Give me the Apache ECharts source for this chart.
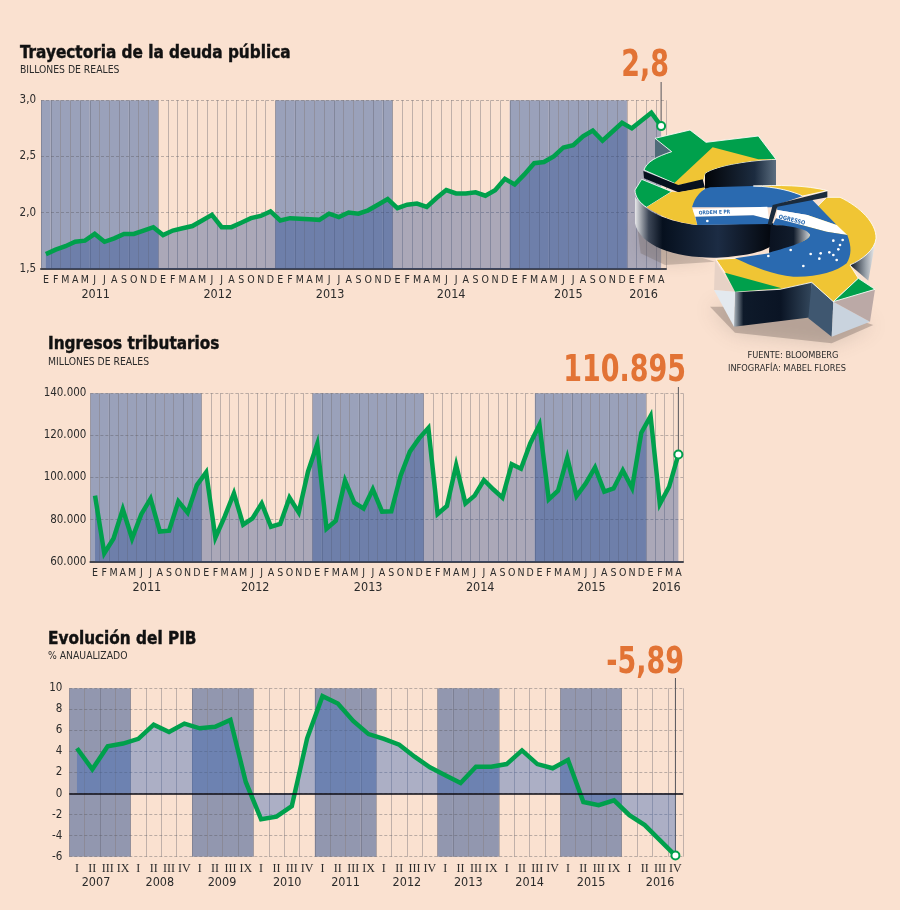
<!DOCTYPE html>
<html>

	<head>
		<meta charset="UTF-8">
		<title>Brasil</title>
		<style>
			html, body { margin: 0; padding: 0; background: #FAE1D0; }
			#myChart { width: 900px; height: 910px; }
		</style>
	</head>

	<body>
		<div id="myChart"></div>
		<script src="https://cdn.jsdelivr.net/npm/echarts@6/dist/echarts.min.js"></script>
		<script>
			var GREEN = "#00A04C";
			var ORANGE = "#E27335";
			var TEXT = "#2b2b2b";
			var LABEL_FONT = "'DejaVu Sans Condensed', 'DejaVu Sans', sans-serif";
			var TITLE_FONT = "'DejaVu Sans Condensed', 'DejaVu Sans', sans-serif";

			var MONTHS = ["E", "F", "M", "A", "M", "J", "J", "A", "S", "O", "N", "D"];

			// 2011-01 .. 2016-04
			var deuda = [1.63, 1.67, 1.70, 1.74, 1.75, 1.81, 1.74, 1.77, 1.81, 1.81, 1.84, 1.87,
				1.80, 1.84, 1.86, 1.88, 1.93, 1.98, 1.87, 1.87, 1.91, 1.95, 1.97, 2.01,
				1.93, 1.95, 1.945, 1.94, 1.935, 1.99, 1.96, 2.00, 1.99, 2.02, 2.07, 2.12,
				2.04, 2.07, 2.08, 2.05, 2.13, 2.20, 2.17, 2.17, 2.18, 2.15, 2.20, 2.30,
				2.25, 2.34, 2.44, 2.45, 2.50, 2.58, 2.60, 2.68, 2.73, 2.64, 2.72, 2.80,
				2.75, 2.82, 2.89, 2.77];

			var ingresos = [91400, 64000, 71000, 84900, 71000, 82600, 90000, 74300, 74700, 88700, 83300, 96400,
				102500, 71400, 81400, 92500, 77600, 80600, 87700, 76600, 77900, 90400, 83400, 102800,
				115900, 75700, 79500, 98500, 88000, 85300, 94400, 83800, 83900, 100900, 112300, 118600,
				123500, 82700, 86500, 105900, 87700, 91400, 98800, 94400, 90400, 106300, 104200, 116200,
				125100, 89600, 93700, 109400, 91200, 97200, 104800, 93300, 94800, 103400, 95000, 121300,
				129200, 87400, 95600, 110895];

			// 2007 T1 .. 2016 T4
			var pib = [4.3, 2.3, 4.5, 4.75, 5.2, 6.55, 5.85, 6.65, 6.2, 6.35, 7.0, 1.1,
				-2.45, -2.2, -1.2, 5.25, 9.25, 8.55, 6.9, 5.65, 5.2, 4.65, 3.5, 2.5,
				1.75, 1.0, 2.55, 2.55, 2.8, 4.1, 2.8, 2.4, 3.2, -0.8, -1.1, -0.65,
				-2.05, -3.0, -4.45, -5.89];

			var trimestres = [];
			for (var t = 0; t < 10; t++) {
				// the source prints IX for the fourth quarter on the odd rows
				trimestres.push("I", "II", "III", t % 2 == 0 ? "IX" : "IV");
			}

			var meses = [];
			for (var m = 0; m < 64; m++) {
				meses.push(MONTHS[m % 12]);
			}

			var panels = [{
				title: "Trayectoria de la deuda pública", titleX: 20, titleY: 45,
				sub: "BILLONES DE REALES", subX: 20, subY: 65,
				big: "2,8", bigRight: 669, bigY: 66,
				left: 41, top: 100.3, width: 625, height: 168.4,
				min: 1.5, max: 3, interval: 0.5,
				data: deuda, cats: meses, perBand: 12, labelFont: 10.5, labelFamily: LABEL_FONT,
				bandColor: "#9AA1BA", areaColor: "rgb(35,70,143)", areaOpacity: 0.37,
				format: function(v) { return v.toFixed(1).replace(".", ","); },
				yMargin: 5, leaderTop: 82, bottomLine: true,
				years: { 5.6: 2011, 18.1: 2012, 29.6: 2013, 42: 2014, 54: 2015, 61.7: 2016 }
			}, {
				title: "Ingresos tributarios", titleX: 48, titleY: 336,
				sub: "MILLONES DE REALES", subX: 48, subY: 357,
				big: "110.895", bigRight: 686, bigY: 371,
				left: 90.4, top: 393.3, width: 592.6, height: 168.4,
				min: 60000, max: 140000, interval: 20000,
				data: ingresos, cats: meses, perBand: 12, labelFont: 10.5, labelFamily: LABEL_FONT,
				bandColor: "#9AA1BA", areaColor: "rgb(35,70,143)", areaOpacity: 0.37,
				format: function(v) { return String(v).replace(/(\d)(\d{3})$/, "$1.$2"); },
				yMargin: 4, leaderTop: 387, bottomLine: true,
				years: { 6.1: 2011, 17.8: 2012, 30: 2013, 42.1: 2014, 54.1: 2015, 62.2: 2016 }
			}, {
				title: "Evolución del PIB", titleX: 48, titleY: 631,
				sub: "% ANAUALIZADO", subX: 48, subY: 651,
				big: "-5,89", bigRight: 684, bigY: 663,
				left: 69.3, top: 688.3, width: 613.8, height: 168.4,
				min: -6, max: 10, interval: 2,
				data: pib, cats: trimestres, perBand: 4, labelFont: 12, labelFamily: "'Liberation Serif', serif",
				bandColor: "#9297AF", areaColor: "rgb(54,100,180)", areaOpacity: 0.4,
				format: function(v) { return String(v); },
				yMargin: 7, leaderTop: 678, bottomLine: false,
				years: { 1.74: 2007, 5.9: 2008, 9.95: 2009, 14.2: 2010, 18: 2011, 22: 2012, 26: 2013, 30: 2014, 34: 2015, 38.5: 2016 }
			}];

			var myChart = echarts.init(document.getElementById("myChart"));
			myChart.setOption(initOptions());
			// leader lines need the pixel position of the last point
			myChart.setOption({ graphic: initIllustration().concat(initLeaders()) });

			function initOptions() {
				var option = {
					backgroundColor: "#FAE1D0",
					animation: false,
					title: [], grid: [], xAxis: [], yAxis: [], series: []
				};
				panels.forEach(function(p, i) {
					option.title.push({
						text: p.title, left: p.titleX, top: p.titleY, padding: 0,
						textStyle: {
							fontFamily: TITLE_FONT, fontSize: 17, fontWeight: "bold", color: "#111",
							textBorderColor: "#111", textBorderWidth: 0.4
						}
					}, {
						text: p.sub, left: p.subX, top: p.subY, padding: 0,
						textStyle: { fontFamily: LABEL_FONT, fontSize: 10.3, fontWeight: "normal", color: TEXT }
					});
					option.grid.push({ left: p.left, top: p.top, width: p.width, height: p.height });
					option.xAxis.push({
						gridIndex: i, type: "category", data: p.cats, position: "bottom",
						axisLine: { onZero: false, show: p.bottomLine, lineStyle: { color: "#46464E", width: 2 } },
						axisTick: { show: false },
						axisLabel: {
							interval: 0, margin: 6, color: TEXT, fontSize: p.labelFont, fontFamily: p.labelFamily
						},
						splitLine: {
							show: true, interval: 0,
							lineStyle: { color: "rgba(90,90,100,0.36)", width: 1 }
						}
					}, {
						gridIndex: i, type: "value", position: "bottom", min: 0, max: p.cats.length, offset: 14,
						axisLine: { show: false }, axisTick: { show: false }, splitLine: { show: false },
						axisLabel: {
							customValues: Object.keys(p.years).map(Number),
							formatter: function(v) { return p.years[v]; },
							margin: 6, color: TEXT, fontSize: 12.5, fontFamily: LABEL_FONT, showMinLabel: true, showMaxLabel: true
						}
					});
					option.yAxis.push({
						gridIndex: i, type: "value", min: p.min, max: p.max, interval: p.interval,
						axisLine: { show: false }, axisTick: { show: false },
						axisLabel: { margin: p.yMargin, color: TEXT, fontSize: 11.5, fontFamily: LABEL_FONT, formatter: p.format },
						splitLine: { show: true, lineStyle: { color: "rgba(85,85,90,0.38)", type: [3, 2], width: 1 } }
					});

					var xIndex = i * 2;
					var up = [], down = [];
					p.cats.forEach(function(c, k) {
						var on = Math.floor(k / p.perBand) % 2 == 0 && k < 60;
						if (p.perBand == 4) on = Math.floor(k / 4) % 2 == 0;
						up.push(on ? p.max : null);
						down.push(on && p.min < 0 ? p.min : null);
					});
					option.series.push({
						type: "bar", xAxisIndex: xIndex, yAxisIndex: i, data: up, z: -1, silent: true,
						barWidth: "100%", barGap: "-100%", itemStyle: { color: p.bandColor }
					});
					if (p.min < 0) {
						option.series.push({
							type: "bar", xAxisIndex: xIndex, yAxisIndex: i, data: down, z: -1, silent: true,
							barWidth: "100%", barGap: "-100%", itemStyle: { color: p.bandColor }
						});
					}
					var lineData = p.data.map(function(v, k) {
						if (k < p.data.length - 1) return v;
						return {
							value: v, symbol: "circle", symbolSize: 8,
							itemStyle: { color: "#fff", borderColor: GREEN, borderWidth: 2 }
						};
					});
					var line = {
						type: "line", xAxisIndex: xIndex, yAxisIndex: i, data: lineData, z: 3,
						symbol: "none", showSymbol: true, showAllSymbol: true, clip: false,
						lineStyle: { color: GREEN, width: 4.5, join: "miter" },
						itemStyle: { color: GREEN },
						areaStyle: { color: p.areaColor, opacity: p.areaOpacity }
					};
					if (p.min < 0) {
						line.markLine = {
							silent: true, symbol: "none", label: { show: false }, animation: false,
							lineStyle: { color: "#0b0b14", width: 1.5, type: "solid" },
							data: [{ yAxis: 0 }]
						};
					}
					option.series.push(line);
				});
				return option;
			}

			function initLeaders() {
				var out = [];
				panels.forEach(function(p, i) {
					var last = p.data.length - 1;
					var pt = myChart.convertToPixel({ xAxisIndex: i * 2, yAxisIndex: i }, [last, p.data[last]]);
					out.push({
						type: "line", silent: true, z: 2,
						shape: { x1: pt[0], y1: p.leaderTop, x2: pt[0], y2: pt[1] - 3 },
						style: { stroke: "#55555a", lineWidth: 1 }
					}, {
						// condensed to match the narrow bold of the original
						type: "text", silent: true, z: 6, x: p.bigRight, y: p.bigY, scaleX: 0.81,
						style: {
							text: p.big, fill: ORANGE, align: "right", verticalAlign: "middle",
							font: "bold 37px " + TITLE_FONT
						}
					});
				});
				out.push({
					type: "text", silent: true, x: 793, y: 356,
					style: { text: "FUENTE: BLOOMBERG", fill: TEXT, align: "center", verticalAlign: "middle", font: "9.2px " + LABEL_FONT }
				}, {
					type: "text", silent: true, x: 787, y: 369,
					style: { text: "INFOGRAFÍA: MABEL FLORES", fill: TEXT, align: "center", verticalAlign: "middle", font: "9.2px " + LABEL_FONT }
				});
				return out;
			}

			function pathEl(name, d, z, style) {
				echarts.graphic.registerShape(name, echarts.graphic.extendPath(d));
				return { type: name, z: z, silent: true, style: style };
			}

			// the 3D dollar sign (3x coords)
			function initIllustration() {
				var LG = echarts.graphic.LinearGradient;
				var wallA = new LG(0, 0, 1, 0, [
					{ offset: 0, color: "#e8e8ea" }, { offset: 0.1, color: "#3c4656" }, { offset: 0.2, color: "#06101e" },
					{ offset: 0.6, color: "#1c2c44" }, { offset: 1, color: "#03060c" }
				]);
				var wallB = new LG(0, 0, 1, 0, [
					{ offset: 0, color: "#aab4bc" }, { offset: 0.12, color: "#0e1a2a" }, { offset: 0.6, color: "#0a1424" },
					{ offset: 1, color: "#33475c" }
				]);
				var wallC = new LG(0, 0, 1, 0, [
					{ offset: 0, color: "#020408" }, { offset: 0.7, color: "#1c2c40" }, { offset: 1, color: "#5c6e80" }
				]);
				var wallD = new LG(0, 0, 1, 0, [
					{ offset: 0, color: "#0a1422" }, { offset: 0.6, color: "#9aa2aa" }, { offset: 1, color: "#f4f4f4" }
				]);
				var wallE = new LG(0, 0, 1, 0, [
					{ offset: 0, color: "#0a1220" }, { offset: 0.6, color: "#111c2c" }, { offset: 1, color: "#cfd4d8" }
				]);
				var BLUE = "#2A6AB0", YEL = "#F0C534", GRN = "#00A04C";
				var shapes = [
					// walls
					{ d: "M105,145 L155,185 L105,205 Z", fill: "#4E6A78" },
					{ d: "M255,250 C290,225 400,210 468,208 L468,292 L255,296 Z", fill: wallC },
					{ d: "M45,320 L45,400 C60,470 170,505 290,503 C350,500 420,490 450,470 L460,400 L230,405 C150,395 80,370 45,320 Z", fill: wallA },
					{ d: "M345,605 L575,577 L575,682 L342,710 Z", fill: wallB },
					{ d: "M575,577 L640,635 L635,740 L565,685 Z", fill: "#3F5770" },
					{ d: "M640,635 L750,695 L635,740 Z", fill: "#C9D3DE" },
					{ d: "M640,635 L765,598 L750,695 Z", fill: "#BBA9A6" },
					{ d: "M285,510 L345,605 L282,600 Z", fill: "#E7D2C6" },
					{ d: "M282,600 L345,605 L342,710 Z", fill: "#E3E9EF" },
					{ d: "M768,445 L745,572 L690,525 Z", fill: wallD },
					// upper arm, top surface
					{ d: "M105,145 L210,120 L258,157 L415,138 L468,208 C400,210 290,225 255,250 L250,270 L175,285 L72,240 C80,215 110,200 155,185 Z", fill: GRN, stroke: "#fff" },
					{ d: "M278,172 L415,208 L468,208 C400,210 290,225 255,250 L250,270 L175,285 L160,282 Z", fill: YEL },
					// slit between arm and body
					{ d: "M70,243 L175,285 L248,268 L255,294 L175,307 L72,265 Z", fill: "#07101e" },
					// body, left lobe
					{ d: "M45,300 L65,268 L155,305 L80,352 C60,340 45,320 45,300 Z", fill: GRN, stroke: "#fff" },
					{ d: "M80,352 L155,305 L175,307 L255,292 L216,352 L232,405 C170,398 120,380 80,352 Z", fill: YEL },
					{ d: "M216,352 C225,320 245,297 270,292 L400,288 C470,290 520,305 548,318 L470,345 L455,352 Z", fill: BLUE },
					{ d: "M400,288 C470,285 560,285 622,302 L548,318 C520,305 470,290 400,288 Z", fill: YEL, stroke: "#fff" },
					{ d: "M218,358 L442,350 L447,388 L400,376 L226,380 Z", fill: "#fff" },
					{ d: "M226,380 L400,376 L447,388 L449,402 L232,405 Z", fill: BLUE },
					// lower S, top surface
					{ d: "M620,322 L660,322 C720,350 770,400 768,445 C765,480 725,510 690,525 L715,565 L640,635 L575,577 L480,598 L350,605 L315,548 L288,508 L345,505 C400,500 430,495 448,490 Z", fill: YEL, stroke: "#fff" },
					{ d: "M315,548 L345,605 L485,595 Z", fill: GRN },
					{ d: "M715,565 L765,598 L640,635 Z", fill: GRN, stroke: "#fff" },
					{ d: "M470,345 L575,328 L650,405 L562,375 L472,360 Z", fill: BLUE },
					{ d: "M472,360 L562,375 L650,405 L682,435 L620,425 L468,385 Z", fill: "#fff" },
					{ d: "M468,385 L620,425 L682,435 C695,470 695,495 680,520 C650,545 590,562 520,560 C460,555 400,530 345,505 L448,490 L450,470 C510,470 565,455 570,435 C565,420 500,408 458,405 Z", fill: BLUE },
					// hole of the lower S
					{ d: "M452,405 C500,405 565,415 570,435 C565,455 510,470 447,488 Z", fill: wallE },
					// long slit through the middle
					{ d: "M622,304 L622,322 L472,350 L455,405 L443,403 L458,345 Z", fill: "#1B2B3C" }
				];
				var children = [
					pathEl("moneyShadow1", "M270,650 L345,728 L635,760 L760,705 L640,665 L350,650 Z", 9,
						{ fill: "rgba(110,95,90,0.35)", shadowBlur: 20, shadowColor: "rgba(90,80,75,0.6)" }),
					pathEl("moneyShadow2", "M50,400 L62,490 L135,525 L285,515 L200,490 Z", 9,
						{ fill: "rgba(110,95,90,0.3)", shadowBlur: 14, shadowColor: "rgba(90,80,75,0.5)" })
				];
				shapes.forEach(function(s, i) {
					children.push(pathEl("moneyPart" + i, s.d, 10, {
						fill: s.fill, stroke: s.stroke || null, lineWidth: s.stroke ? 2.5 : 0
					}));
				});
				var stars = [[640, 452], [668, 450], [660, 465], [655, 478], [628, 487], [640, 495], [602, 490], [598, 506], [572, 492], [650, 510], [550, 528], [512, 480], [445, 498], [262, 393]];
				stars.forEach(function(s) {
					children.push({
						type: "circle", z: 11, silent: true, shape: { cx: s[0], cy: s[1], r: 4 }, style: { fill: "#fff" }
					});
				});
				children.push({
					type: "text", z: 11, silent: true, x: 236, y: 362, rotation: 0.035,
					style: { text: "ORDEM E PR", fill: BLUE, font: "bold 15px " + LABEL_FONT }
				}, {
					type: "text", z: 11, silent: true, x: 478, y: 372, rotation: -0.25,
					style: { text: "OGRESSO", fill: BLUE, font: "bold 17px " + LABEL_FONT }
				});
				return [{
					type: "group", x: 620, y: 90, scaleX: 1 / 3, scaleY: 1 / 3, z: 10,
					children: children
				}];
			}
		</script>
	</body>

</html>
